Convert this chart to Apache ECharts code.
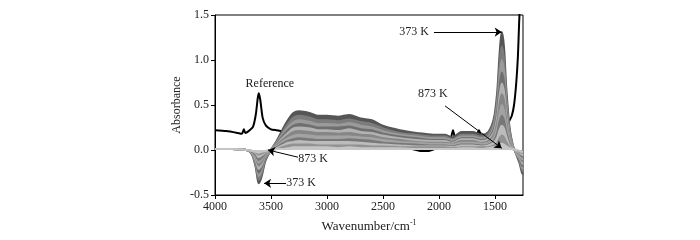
<!DOCTYPE html>
<html>
<head>
<meta charset="utf-8">
<script src="https://cdn.jsdelivr.net/npm/echarts@6.0.0/dist/echarts.min.js"></script>
<style>
  html, body { margin: 0; padding: 0; background: #fff; }
  #chart { width: 700px; height: 240px; }
</style>
</head>
<body>
<div id="chart"></div>
<script>
// shared wavenumber grid (cm-1) for the temperature series
const wave = [4000, 3850, 3720, 3670, 3635, 3610, 3585, 3550, 3500, 3450, 3400, 3350, 3300, 3250, 3150,
  3080, 3000, 2900, 2800, 2700, 2600, 2500, 2350, 2200, 2050, 1950, 1880, 1800, 1700, 1620, 1560,
  1510, 1480, 1460, 1440, 1420, 1400, 1370, 1340, 1310, 1280, 1260, 1250]

const temps = ['373 K', '423 K', '473 K', '523 K', '573 K', '623 K', '673 K', '723 K', '773 K', '823 K', '873 K']

const abs373 = [0.01,0.01,0.00,-0.05,-0.20,-0.37,-0.30,-0.12,0.00,0.10,0.22,0.33,0.41,0.43,0.41,0.38,0.38,0.37,0.39,0.35,0.33,0.27,0.22,0.19,0.17,0.17,0.14,0.20,0.20,0.17,0.20,0.35,0.65,1.05,1.31,1.15,0.70,0.25,0.05,-0.05,-0.15,-0.25,-0.27]
const abs423 = [0.01,0.01,0.00,-0.04,-0.18,-0.33,-0.27,-0.10,0.00,0.09,0.19,0.29,0.36,0.38,0.36,0.33,0.33,0.32,0.34,0.31,0.29,0.24,0.19,0.17,0.15,0.15,0.12,0.17,0.17,0.15,0.18,0.31,0.57,0.92,1.15,1.01,0.62,0.22,0.04,-0.04,-0.13,-0.22,-0.24]
const abs473 = [0.01,0.01,0.00,-0.04,-0.16,-0.29,-0.23,-0.09,0.00,0.08,0.17,0.25,0.31,0.33,0.31,0.29,0.29,0.28,0.30,0.27,0.25,0.21,0.17,0.15,0.13,0.13,0.11,0.15,0.15,0.13,0.15,0.27,0.50,0.80,1.00,0.88,0.54,0.19,0.04,-0.04,-0.11,-0.19,-0.21]
const abs523 = [0.01,0.01,0.00,-0.03,-0.14,-0.25,-0.20,-0.08,0.00,0.07,0.15,0.22,0.27,0.29,0.27,0.25,0.25,0.25,0.26,0.23,0.22,0.18,0.15,0.13,0.11,0.11,0.09,0.13,0.13,0.11,0.13,0.23,0.43,0.69,0.86,0.76,0.46,0.16,0.03,-0.03,-0.10,-0.17,-0.18]
const abs573 = [0.01,0.01,0.00,-0.03,-0.12,-0.21,-0.17,-0.07,0.00,0.06,0.13,0.19,0.24,0.25,0.24,0.22,0.22,0.21,0.23,0.20,0.19,0.16,0.13,0.11,0.10,0.10,0.08,0.12,0.12,0.10,0.12,0.20,0.37,0.59,0.74,0.65,0.40,0.14,0.03,-0.03,-0.09,-0.14,-0.16]
const abs623 = [0.01,0.01,0.00,-0.02,-0.09,-0.17,-0.14,-0.06,0.00,0.05,0.11,0.16,0.20,0.21,0.20,0.19,0.19,0.18,0.19,0.17,0.16,0.13,0.11,0.09,0.08,0.08,0.07,0.10,0.10,0.08,0.10,0.17,0.31,0.50,0.62,0.55,0.33,0.12,0.02,-0.02,-0.07,-0.12,-0.13]
const abs673 = [0.01,0.01,0.00,-0.02,-0.08,-0.14,-0.11,-0.05,0.00,0.04,0.09,0.13,0.16,0.17,0.16,0.15,0.15,0.15,0.15,0.14,0.13,0.11,0.09,0.08,0.07,0.07,0.06,0.08,0.08,0.07,0.08,0.14,0.25,0.40,0.50,0.44,0.27,0.10,0.02,-0.02,-0.06,-0.10,-0.10]
const abs723 = [0.01,0.01,0.00,-0.02,-0.06,-0.11,-0.09,-0.04,0.00,0.03,0.07,0.10,0.12,0.13,0.12,0.11,0.11,0.11,0.12,0.11,0.10,0.08,0.07,0.06,0.05,0.05,0.04,0.06,0.06,0.05,0.06,0.10,0.19,0.31,0.38,0.33,0.20,0.07,0.01,-0.01,-0.04,-0.07,-0.08]
const abs773 = [0.01,0.01,0.00,-0.01,-0.04,-0.08,-0.06,-0.03,0.00,0.02,0.05,0.08,0.09,0.10,0.09,0.09,0.09,0.09,0.09,0.08,0.07,0.06,0.05,0.04,0.04,0.04,0.03,0.05,0.05,0.04,0.05,0.08,0.14,0.22,0.27,0.24,0.15,0.05,0.01,-0.01,-0.03,-0.05,-0.06]
const abs823 = [0.01,0.01,0.00,-0.01,-0.03,-0.05,-0.04,-0.02,0.00,0.01,0.03,0.05,0.06,0.06,0.06,0.05,0.05,0.05,0.05,0.05,0.04,0.04,0.03,0.03,0.03,0.03,0.02,0.03,0.03,0.03,0.03,0.05,0.08,0.13,0.16,0.14,0.09,0.03,0.01,0.00,-0.02,-0.03,-0.04]
const abs873 = [0.01,0.01,0.00,-0.01,-0.02,-0.03,-0.02,-0.01,0.00,0.01,0.01,0.02,0.03,0.03,0.03,0.03,0.03,0.02,0.03,0.02,0.02,0.02,0.02,0.01,0.01,0.01,0.01,0.02,0.02,0.01,0.02,0.03,0.04,0.06,0.07,0.06,0.04,0.02,0.01,0.00,-0.01,-0.02,-0.02]
const spectra = [abs373, abs423, abs473, abs523, abs573, abs623, abs673, abs723, abs773, abs823, abs873]

// reference spectrum (black)
const refWave = [4000, 3900, 3800, 3760, 3742, 3730, 3700, 3660, 3635, 3618, 3608, 3595, 3575, 3545, 3500, 3450,
  3400, 3200, 3000, 2800, 2600, 2400, 2240, 2170, 2090, 2020, 1930, 1900, 1875, 1850, 1800, 1740, 1680,
  1643, 1615, 1560, 1480, 1420, 1370, 1350, 1330, 1310, 1295, 1285, 1278]
const refAbs = [0.22, 0.21, 0.19, 0.18, 0.23, 0.19, 0.21, 0.26, 0.40, 0.58, 0.63, 0.55, 0.36, 0.27, 0.23, 0.22,
  0.21, 0.18, 0.14, 0.10, 0.06, 0.03, 0.01, -0.01, -0.01, 0.02, 0.06, 0.10, 0.22, 0.10, 0.09, 0.11, 0.12,
  0.22, 0.12, 0.12, 0.14, 0.22, 0.33, 0.38, 0.50, 0.75, 1.05, 1.40, 1.60]

const xTicks = [4000, 3500, 3000, 2500, 2000, 1500]

// annotations: label position and arrow [from, to] in data units
const notes = [
  { text: 'Reference', at: [3510, 0.74] },
  { text: '373 K', at: [2223, 1.31], from: [2045, 1.31], to: [1440, 1.31] },
  { text: '873 K', at: [2054, 0.62], from: [1946, 0.49], to: [1440, 0.02] },
  { text: '873 K', at: [3125, -0.10], from: [3259, -0.08], to: [3527, 0.0] },
  { text: '373 K', at: [3232, -0.37], from: [3366, -0.37], to: [3562, -0.37] }
]

const grays = ['#565656', '#7c7c7c', '#9a9a9a', '#6f6f6f', '#b2b2b2', '#868686', '#a3a3a3', '#787878', '#bcbcbc', '#929292', '#c6c6c6']
const FONT = 'Liberation Serif'

const chart = echarts.init(document.getElementById('chart'), null, { renderer: 'canvas' })

const series = [{
  name: 'Reference', type: 'line', data: refWave.map((w, i) => [w, refAbs[i]]),
  showSymbol: false, smooth: 0.2, lineStyle: { color: '#000', width: 2 }, z: 1
}]
spectra.forEach((arr, k) => series.push({
  name: temps[k], type: 'line', data: wave.map((w, i) => [w, arr[i]]),
  showSymbol: false, smooth: 0.3,
  lineStyle: { color: grays[k], width: 2 },
  areaStyle: { color: grays[k], opacity: 1 },
  z: 2
}))
series.push({
  type: 'line', data: [], z: 5, silent: true,
  markLine: {
    silent: true, symbol: ['none', 'arrow'], symbolSize: 7, animation: false,
    lineStyle: { color: '#000', width: 1, type: 'solid' }, label: { show: false },
    data: notes.filter(n => n.from).map(n => [{ coord: n.from }, { coord: n.to }])
  },
  markPoint: {
    silent: true, symbol: 'rect', symbolSize: 1, itemStyle: { color: 'rgba(0,0,0,0)' }, animation: false,
    label: { show: true, position: 'inside', formatter: '{b}', color: '#222', fontFamily: FONT, fontSize: 12 },
    data: notes.map(n => ({ name: n.text, coord: n.at }))
  }
})

chart.setOption({
  animation: false,
  grid: { left: 215, right: 177, top: 15, bottom: 45, show: true, borderColor: '#000', borderWidth: 1 },
  xAxis: {
    type: 'value', inverse: true, min: 1250, max: 4000,
    name: '{a|Wavenumber/cm}{b|-1}', nameLocation: 'middle', nameGap: 24,
    nameTextStyle: { rich: {
      a: { fontFamily: FONT, fontSize: 13, color: '#222' },
      b: { fontFamily: FONT, fontSize: 8, color: '#222', verticalAlign: 'top', padding: [0, 0, 8, 0] }
    } },
    axisLine: { onZero: false, lineStyle: { color: '#000' } },
    axisTick: { customValues: xTicks, length: 4, lineStyle: { color: '#000' } },
    axisLabel: { customValues: xTicks, color: '#222', fontFamily: FONT, fontSize: 12, margin: 6, formatter: v => String(v) },
    splitLine: { show: false }
  },
  yAxis: {
    type: 'value', min: -0.5, max: 1.5, interval: 0.5,
    name: 'Absorbance', nameLocation: 'middle', nameGap: 32,
    nameTextStyle: { fontFamily: FONT, fontSize: 12, color: '#222' },
    axisLine: { show: true, lineStyle: { color: '#000' } },
    axisTick: { show: true, length: 4, lineStyle: { color: '#000' } },
    axisLabel: { color: '#222', fontFamily: FONT, fontSize: 12, margin: 6, formatter: v => v.toFixed(1) },
    splitLine: { show: false }
  },
  series
})
</script>
</body>
</html>
